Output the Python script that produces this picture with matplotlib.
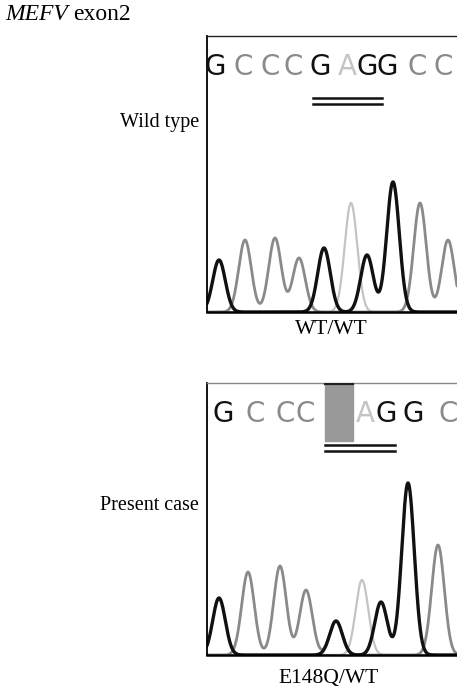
import numpy as np
import matplotlib
matplotlib.use("Agg")
import matplotlib.pyplot as plt
from matplotlib.patches import Rectangle

# ---------------- data ----------------
gene = "MEFV"
exon = "exon2"
row_labels = ["Wild type", "Present case"]
genotypes = ["WT/WT", "E148Q/WT"]

wt_bases = ["G", "C", "C", "C", "G", "A", "G", "G", "C", "C"]
wt_peak_pos = [12, 38, 68, 92, 117, 144, 160, 186, 213, 241]
wt_peak_height = [52, 72, 74, 54, 64, 109, 57, 130, 109, 72]
wt_call_pos = [8, 36, 63, 86, 113, 140, 160, 180, 210, 236]

case_bases = ["G", "C", "C", "C", "S", "A", "G", "G", "C"]
case_peak_pos = [12, 41, 73, 99, 129, 155, 174, 201, 231]
case_peak_height = [57, 83, 89, 65, 34, 75, 53, 172, 110]
case_call_pos = [16, 48, 78, 98, 132, 158, 179, 206, 241]

codon_index = [4, 5, 6]   # E148 codon (GAG)

# ---------------- style ----------------
W, H = 457, 690
fig = plt.figure(figsize=(W / 100, H / 100), dpi=100)
serif = ["Liberation Serif", "DejaVu Serif"]
narrow = ["Liberation Sans Narrow", "DejaVu Sans"]
chan_color = {"G": "#111111", "C": "#8a8a8a", "A": "#c4c4c4"}
chan_lw = {"G": 2.4, "C": 2.0, "A": 1.6}
sigma = 6.3


def px_axes(l, t, r, b):
    return fig.add_axes([l / W, 1 - b / H, (r - l) / W, (b - t) / H])


def draw_panel(ax, bases, pos, hts, calls, ylim, top_color, mutant):
    x = np.linspace(0, 250, 1500)
    for ch in ["A", "C", "G"]:
        y = np.zeros_like(x)
        for b, p, h in zip(bases, pos, hts):
            if b == ch or (b == "S" and ch in "GC"):
                y += h * np.exp(-0.5 * ((x - p) / sigma) ** 2)
        ax.plot(x, y, color=chan_color[ch], lw=chan_lw[ch], solid_capstyle="round", zorder=2)
    ax.set_xlim(0, 250)
    ax.set_ylim(0, ylim)
    ax.set_xticks([])
    ax.set_yticks([])
    ax.spines["right"].set_visible(False)
    ax.spines["top"].set_color(top_color)
    ax.spines["top"].set_linewidth(1.0)
    ax.spines["left"].set_linewidth(1.3)
    ax.spines["bottom"].set_linewidth(1.8)
    letter_y = ylim - 31
    for b, c in zip(bases, calls):
        if b == "S":
            continue
        ax.text(c, letter_y, b, ha="center", va="center", fontsize=20,
                family=narrow, color=chan_color[b], zorder=3)
    i0, i2 = codon_index[0], codon_index[-1]
    if mutant:
        bx0, bx1 = calls[i0] - 14, calls[i0] + 14
        ax.add_patch(Rectangle((bx0, ylim - 58), bx1 - bx0, 58, color="#999999", zorder=1))
        ax.plot([bx0, bx1], [ylim - 0.5, ylim - 0.5], color="#222222", lw=1.6, zorder=3)
        ux0, ux1 = bx0, calls[i2] + 9
    else:
        ux0, ux1 = calls[i0] - 7, calls[i2] + 15
    for dy in (62, 68):
        ax.plot([ux0, ux1], [ylim - dy, ylim - dy], color="#111111", lw=1.8, zorder=3)


ax1 = px_axes(207, 36, 457, 312)
draw_panel(ax1, wt_bases, wt_peak_pos, wt_peak_height, wt_call_pos, 276, "#222222", False)
ax2 = px_axes(207, 383, 457, 655)
draw_panel(ax2, case_bases, case_peak_pos, case_peak_height, case_call_pos, 272, "#888888", True)

fig.text(5 / W, 1 - 15 / H, gene, style="italic", family=serif, fontsize=17, va="center", ha="left")
fig.text(73 / W, 1 - 15 / H, exon, family=serif, fontsize=17, va="center", ha="left")
fig.text(199 / W, 1 - 122 / H, row_labels[0], family=serif, fontsize=14.5, va="center", ha="right")
fig.text(199 / W, 1 - 505 / H, row_labels[1], family=serif, fontsize=14.5, va="center", ha="right")
fig.text(331 / W, 1 - 330 / H, genotypes[0], family=serif, fontsize=15.5, va="center", ha="center")
fig.text(329 / W, 1 - 679 / H, genotypes[1], family=serif, fontsize=15.5, va="center", ha="center")

fig.savefig("out.png", dpi=100)
